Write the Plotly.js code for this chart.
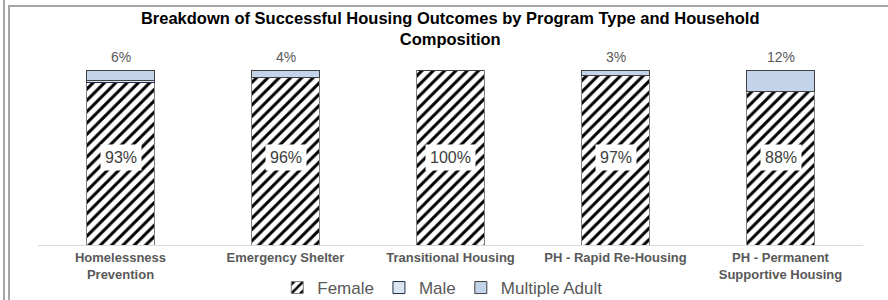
<!DOCTYPE html>
<html>
<head>
<meta charset="utf-8">
<script src="https://cdn.plot.ly/plotly-3.0.1.min.js"></script>
<style>
html,body{margin:0;padding:0;background:#fff;}
#wrap{position:relative;width:888px;height:300px;overflow:hidden;}
#chart{position:absolute;left:0;top:0;width:888px;height:300px;}
.ln{position:absolute;background:#a6a6a6;pointer-events:none;z-index:5;}
</style>
</head>
<body>
<div id="wrap">
<div id="chart"></div>
<div class="ln" style="left:3px;top:0;width:2px;height:300px;"></div>
<div class="ln" style="left:8px;top:5px;width:2px;height:295px;"></div>
<div class="ln" style="left:8px;top:5px;width:880px;height:2px;"></div>
</div>
<script>
const categories = ["Homelessness<br>Prevention", "Emergency Shelter", "Transitional Housing", "PH - Rapid Re-Housing", "PH - Permanent<br>Supportive Housing"];
const female = [93, 96, 100, 97, 88];
const male = [1, 0, 0, 0, 0];
const multipleAdult = [6, 4, 0, 3, 12];

const traces = [
  {
    type: 'bar', name: 'Female', x: categories, y: female,
    marker: {color: '#ffffff', line: {color: '#7f7f7f', width: 1},
      pattern: {shape: '/', fgcolor: '#000000', bgcolor: '#ffffff', size: 8, solidity: 0.38}},
    hoverinfo: 'none'
  },
  {
    type: 'bar', name: 'Male', x: categories, y: male,
    marker: {color: '#dce6f2', line: {color: '#1f2d4a', width: 1}},
    hoverinfo: 'none'
  },
  {
    type: 'bar', name: 'Multiple Adult', x: categories, y: multipleAdult,
    marker: {color: '#c3d4ea', line: {color: '#404040', width: 1}},
    hoverinfo: 'none'
  }
];

const annotations = [];
categories.forEach((c, i) => {
  annotations.push({
    x: c, y: 50, xref: 'x', yref: 'y', text: female[i] + '%', showarrow: false,
    bgcolor: '#ffffff', borderpad: 4,
    font: {family: 'Liberation Sans, Arial, sans-serif', size: 16, color: '#404040'}
  });
  if (multipleAdult[i] > 0) {
    annotations.push({
      x: c, y: 100, xref: 'x', yref: 'y', yanchor: 'bottom', yshift: 3,
      text: multipleAdult[i] + '%', showarrow: false,
      font: {family: 'Liberation Sans, Arial, sans-serif', size: 14, color: '#595959'}
    });
  }
});

const layout = {
  width: 888, height: 300,
  margin: {l: 38, r: 25, t: 70, b: 55, autoexpand: false},
  paper_bgcolor: '#ffffff', plot_bgcolor: '#ffffff',
  barmode: 'stack', bargap: 0.59,
  title: {
    text: '<b>Breakdown of Successful Housing Outcomes by Program Type and Household<br>Composition</b>',
    x: 0.507, xanchor: 'center', y: 0.92, yanchor: 'top', yref: 'container',
    font: {family: 'Liberation Sans, Arial, sans-serif', size: 16.5, color: '#000000'}
  },
  xaxis: {
    showline: true, linecolor: '#d9d9d9', linewidth: 1, ticks: '', showgrid: false,
    automargin: false,
    tickfont: {family: 'Liberation Sans, Arial, sans-serif', size: 13, color: '#595959', weight: 'bold'},
    fixedrange: true
  },
  yaxis: {range: [0, 100], visible: false, fixedrange: true, automargin: false},
  showlegend: true,
  legend: {
    orientation: 'h', x: 0.49, xanchor: 'center', y: 0.04, yanchor: 'middle', yref: 'container',
    font: {family: 'Liberation Sans, Arial, sans-serif', size: 17, color: '#595959'},
    itemwidth: 30, traceorder: 'normal', bgcolor: 'rgba(0,0,0,0)'
  },
  annotations: annotations
};

Plotly.newPlot('chart', traces, layout, {displayModeBar: false, staticPlot: true});
</script>
</body>
</html>
